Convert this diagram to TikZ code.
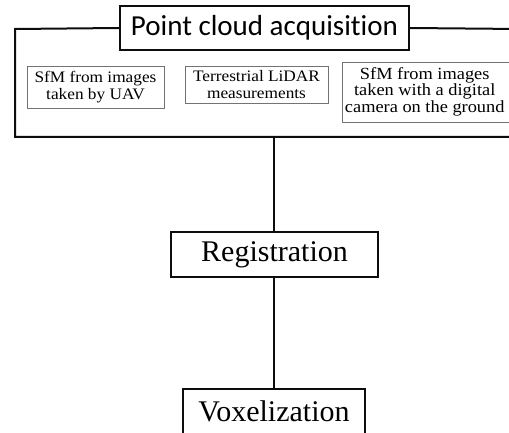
\documentclass[tikz,border=0pt]{standalone}
\usepackage{fontspec}
\setmainfont{Liberation Serif}
\newfontfamily\titlefont[Ligatures=NoCommon]{Carlito}
\newfontfamily\boxfont[FakeStretch=1.08]{Liberation Serif}
\usetikzlibrary{positioning}
\definecolor{frameBlack}{gray}{0.05}
\definecolor{boxGray}{gray}{0.45}

\begin{document}
\begin{tikzpicture}[x=1pt, y=-1pt,
    stepbox/.style={draw=frameBlack, line width=2pt, fill=white, inner sep=0pt, font=\fontsize{30}{32}\selectfont},
    methodbox/.style={draw=boxGray, line width=0.9pt, fill=white, inner sep=0pt, align=center, font=\boxfont\fontsize{16}{16.5}\selectfont},
    link/.style={draw=frameBlack, line width=1.6pt}]
    \useasboundingbox (0,0) rectangle (509,433);
    \clip (0,0) rectangle (509,433);

    \coordinate (fl) at (15,29);
    \coordinate (fr) at (520,29);
    \coordinate (stem) at (274,137);

    % title and frame
    \node[stepbox, minimum width=289, minimum height=44, font=\titlefont\fontsize{29}{30}\selectfont] (acq) at (264.5,28) {Point cloud acquisition};
    \draw[frameBlack, line width=2pt] (acq.west) -- (fl) |- (520,137);
    \draw[frameBlack, line width=2pt] (acq.east) -- (fr);

    \node[methodbox, minimum width=137, minimum height=42] (uav) at (95.5,87) {SfM from images\\taken by UAV};
    \node[methodbox, minimum width=143, minimum height=37] (lidar) at (256.5,84.5) {Terrestrial LiDAR\\measurements};
    \node[methodbox, anchor=west, minimum height=60, inner xsep=3pt, font=\boxfont\fontsize{17}{15.5}\selectfont] (cam) at (341.5,92)
        {\begin{tabular}{@{}c@{}}SfM from images\\taken with a digital\\camera on the ground\end{tabular}\hspace{24pt}};

    \node[stepbox, minimum width=207, minimum height=45] (reg) at (274.5,254.5) {Registration};
    \node[stepbox, minimum width=182, minimum height=45] (vox) at (274,411.5) {Voxelization};

    \draw[link] (stem) -- (reg.north -| stem);
    \draw[link] (reg.south -| stem) -- (vox.north -| stem);
\end{tikzpicture}
\end{document}
